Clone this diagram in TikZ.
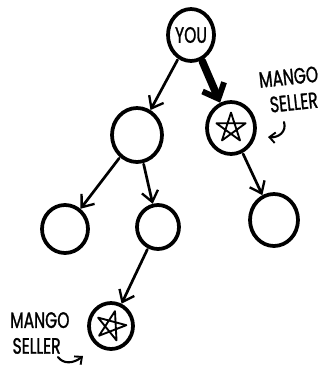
\documentclass[tikz,border=0pt]{standalone}
\usepackage{fontspec}
\newfontfamily\hand[FakeStretch=0.7, FakeBold=1.2]{Poppins}
\usepackage{tikz}
\usetikzlibrary{shapes.geometric, arrows.meta, positioning}

\begin{document}
\begin{tikzpicture}[
    x=0.03cm, y=-0.03cm,
    person/.style 2 args={ellipse, draw, line width=3.2pt, minimum width=#1*0.06cm, minimum height=#2*0.06cm, inner sep=0pt, font=\hand\fontsize{19}{19}\selectfont},
    mark star/.style={star, star points=5, minimum size=0.9cm, inner sep=0pt},
    pentagram/.style={line width=1.6pt, line join=round},
    edge/.style={-{Straight Barb[length=9pt, width=14pt, line width=2pt]}, line width=2.3pt, line cap=round, shorten <=1pt},
    note/.style={font=\hand\fontsize{19}{19}\selectfont, align=left, inner sep=0pt},
    hook/.style={-{Straight Barb[length=5pt, width=9pt, line width=1.6pt]}, line width=1.8pt, line cap=round}
]
    \useasboundingbox (0,0) rectangle (325,366);

    \node[person={23}{26}] (you) at (191,35) {YOU};
    \node[person={25}{27}] (alice) at (137,135) {};
    \node[person={24}{26}] (bob) at (231,128) {};
    \node[person={23}{24}] (anuj) at (65,229) {};
    \node[person={21}{22}] (peggy) at (158,227) {};
    \node[person={24}{26}] (thom) at (274,220) {};
    \node[person={22}{23}] (jonny) at (111,326) {};

    % the mango sellers
    \node[mark star] (star1) at (bob) {};
    \node[mark star, rotate=-15] (star2) at (jonny) {};
    \foreach \s in {star1, star2}
        \draw[pentagram] (\s.outer point 1) -- (\s.outer point 3) -- (\s.outer point 5)
            -- (\s.outer point 2) -- (\s.outer point 4) -- cycle;

    \draw[edge] (you) -- (alice);
    \draw[edge, line width=6.5pt, -{Straight Barb[length=11pt, width=20pt, line width=5pt]}] (you) -- (bob);
    \draw[edge] (bob) -- (thom);
    \draw[edge] (alice) -- (anuj);
    \draw[edge] (alice) -- (peggy);
    \draw[edge] (peggy) -- (jonny);

    % labels
    \node[note, anchor=north west, rotate=6] (label1) at (258,72) {MANGO\\[3pt]\hspace{7pt}SELLER};
    \node[note, anchor=north west] (label2) at (10,312) {MANGO\\[3pt]\hspace{2pt}SELLER};
    \coordinate (hook1) at (284,122);
    \coordinate (hook2) at (58,357);
    \draw[hook] (hook1) .. controls (287,132) and (278,138) .. (268,137);
    \draw[hook] (hook2) .. controls (63,364) and (73,364) .. (83,356);
\end{tikzpicture}
\end{document}
